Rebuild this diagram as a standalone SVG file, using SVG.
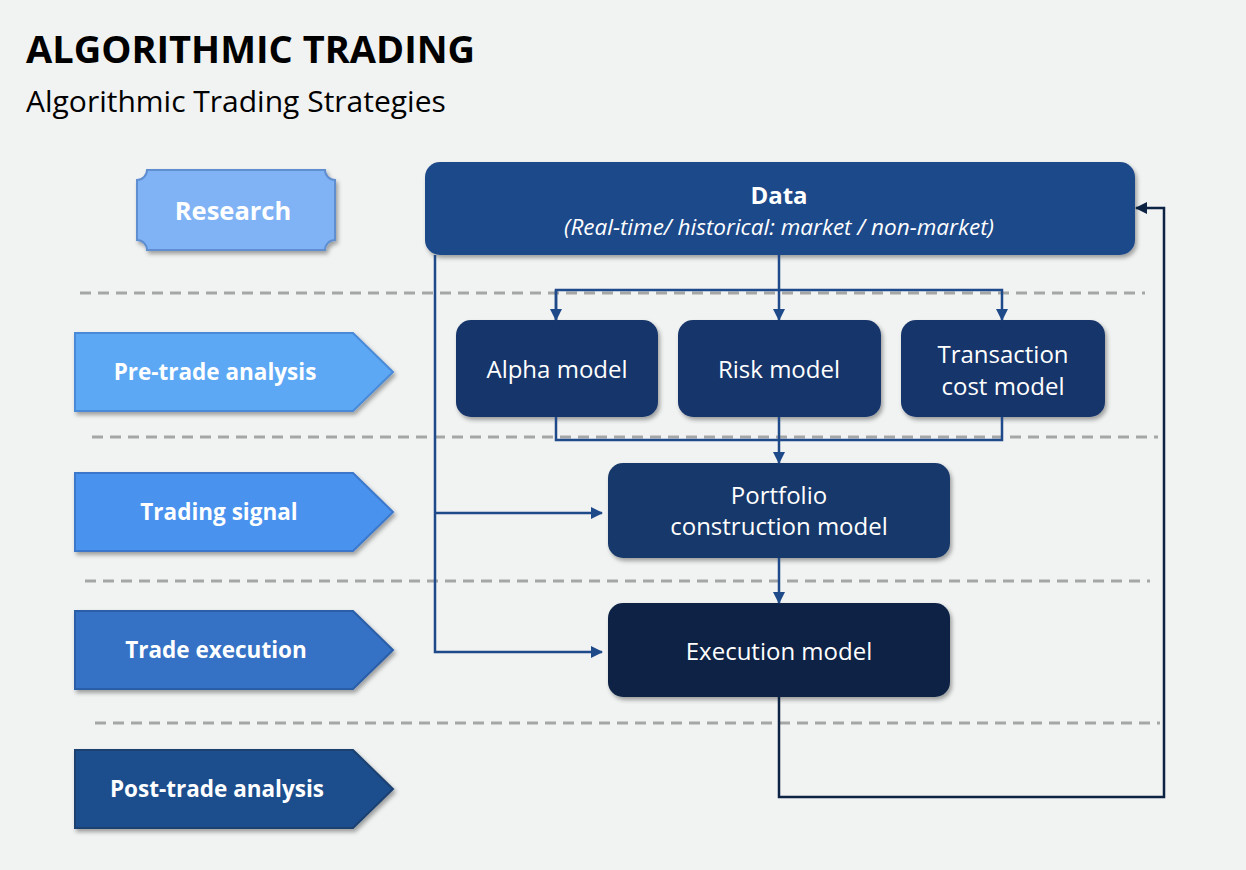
<svg xmlns="http://www.w3.org/2000/svg" width="1246" height="870" viewBox="0 0 1246 870">
<defs>
<filter id="sh" x="-10%" y="-10%" width="130%" height="140%">
<feDropShadow dx="2" dy="3" stdDeviation="2" flood-color="#000" flood-opacity="0.35"/>
</filter>
<marker id="ar" markerWidth="12" markerHeight="12" refX="11" refY="6" orient="auto" markerUnits="userSpaceOnUse" viewBox="0 0 12 12">
<path d="M0,0 L12,6 L0,12 Z" fill="#1f4a8a"/>
</marker>
<marker id="ar2" markerWidth="12" markerHeight="12" refX="11" refY="6" orient="auto" markerUnits="userSpaceOnUse" viewBox="0 0 12 12">
<path d="M0,0 L12,6 L0,12 Z" fill="#0c2344"/>
</marker>
</defs>
<style>
text{font-family:"Open Sans","Liberation Sans",sans-serif;}
.t{fill:#fff;font-size:24px;text-anchor:middle;}
.tb{fill:#fff;font-size:22.5px;font-weight:bold;text-anchor:middle;}
.dash{stroke:#a6a6a6;stroke-width:3;stroke-dasharray:11 7;fill:none;}
.c{stroke:#1f4a8a;stroke-width:2.5;fill:none;}
.box{filter:url(#sh);}
</style>
<rect width="1246" height="870" fill="#f1f2f2"/>
<text x="26" y="63" style="font-size:38px;font-weight:bold" fill="#000">ALGORITHMIC TRADING</text>
<text x="26" y="112" style="font-size:30px" fill="#000">Algorithmic Trading Strategies</text>

<g id="dashes">
<line class="dash" x1="80" y1="293" x2="1145" y2="293"/>
<line class="dash" x1="92" y1="437" x2="1158" y2="437"/>
<line class="dash" x1="85" y1="581" x2="1150" y2="581"/>
<line class="dash" x1="95" y1="723" x2="1160" y2="723"/>
</g>

<g id="research">
<path class="box" d="M147,170 H325 A10,10 0 0 0 335,180 V240 A10,10 0 0 0 325,250 H147 A10,10 0 0 0 137,240 V180 A10,10 0 0 0 147,170 Z" fill="#7fb3f5" stroke="#5f8fd0" stroke-width="2"/>
<text class="tb" x="233" y="220" style="font-size:25.5px">Research</text>
</g>
<g id="pretrade">
<path class="box" d="M75,333 H353 L393,372 L353,411 H75 Z" fill="#5ba8f5" stroke="#4a8ad8" stroke-width="2"/>
<text class="tb" x="215" y="380">Pre-trade analysis</text>
</g>
<g id="signal">
<path class="box" d="M75,473 H353 L393,512 L353,551 H75 Z" fill="#4a92ee" stroke="#3a78cc" stroke-width="2"/>
<text class="tb" x="219" y="520">Trading signal</text>
</g>
<g id="execution-phase">
<path class="box" d="M75,611 H353 L393,650 L353,689 H75 Z" fill="#3571c4" stroke="#2a5ea8" stroke-width="2"/>
<text class="tb" x="216" y="658">Trade execution</text>
</g>
<g id="posttrade">
<path class="box" d="M75,750 H353 L393,789 L353,828 H75 Z" fill="#1f4e8c" stroke="#1a4070" stroke-width="2"/>
<text class="tb" x="217" y="797">Post-trade analysis</text>
</g>

<g id="data">
<rect class="box" x="425" y="162" width="710" height="93" rx="15" fill="#1f4a8a"/>
<text class="tb" x="779" y="204" style="font-size:24px">Data</text>
<text class="t" x="779" y="235" style="font-size:22.5px;font-style:italic">(Real-time/ historical: market / non-market)</text>
</g>
<g id="alpha">
<rect class="box" x="456" y="320" width="202" height="97" rx="15" fill="#17366b"/>
<text class="t" x="557" y="378">Alpha model</text>
</g>
<g id="risk">
<rect class="box" x="678" y="320" width="203" height="97" rx="15" fill="#17366b"/>
<text class="t" x="779" y="378">Risk model</text>
</g>
<g id="tcost">
<rect class="box" x="901" y="320" width="204" height="97" rx="15" fill="#17366b"/>
<text class="t" x="1003" y="363">Transaction</text>
<text class="t" x="1003" y="395">cost model</text>
</g>
<g id="portfolio">
<rect class="box" x="608" y="463" width="342" height="95" rx="15" fill="#18386a"/>
<text class="t" x="779" y="504">Portfolio</text>
<text class="t" x="779" y="535">construction model</text>
</g>
<g id="exec">
<rect class="box" x="608" y="603" width="342" height="94" rx="15" fill="#0c2344"/>
<text class="t" x="779" y="660">Execution model</text>
</g>

<g id="connectors">
<line class="c" x1="779" y1="255" x2="779" y2="320" marker-end="url(#ar)"/>
<path class="c" d="M556,320 V290 H1002 V320" marker-end="url(#ar)"/>
<path class="c" d="M556,290 V320" marker-end="url(#ar)"/>
<path class="c" d="M556,417 V440 H1002 V417"/>
<line class="c" x1="779" y1="417" x2="779" y2="463" marker-end="url(#ar)"/>
<path class="c" d="M435,255 V652 H602" marker-end="url(#ar)"/>
<path class="c" d="M435,513 H602" marker-end="url(#ar)"/>
<line class="c" x1="779" y1="558" x2="779" y2="603" marker-end="url(#ar)"/>
<path d="M779,697 V797 H1164 V208 H1136" stroke="#0c2344" stroke-width="2.5" fill="none" marker-end="url(#ar2)"/>
</g>
</svg>
